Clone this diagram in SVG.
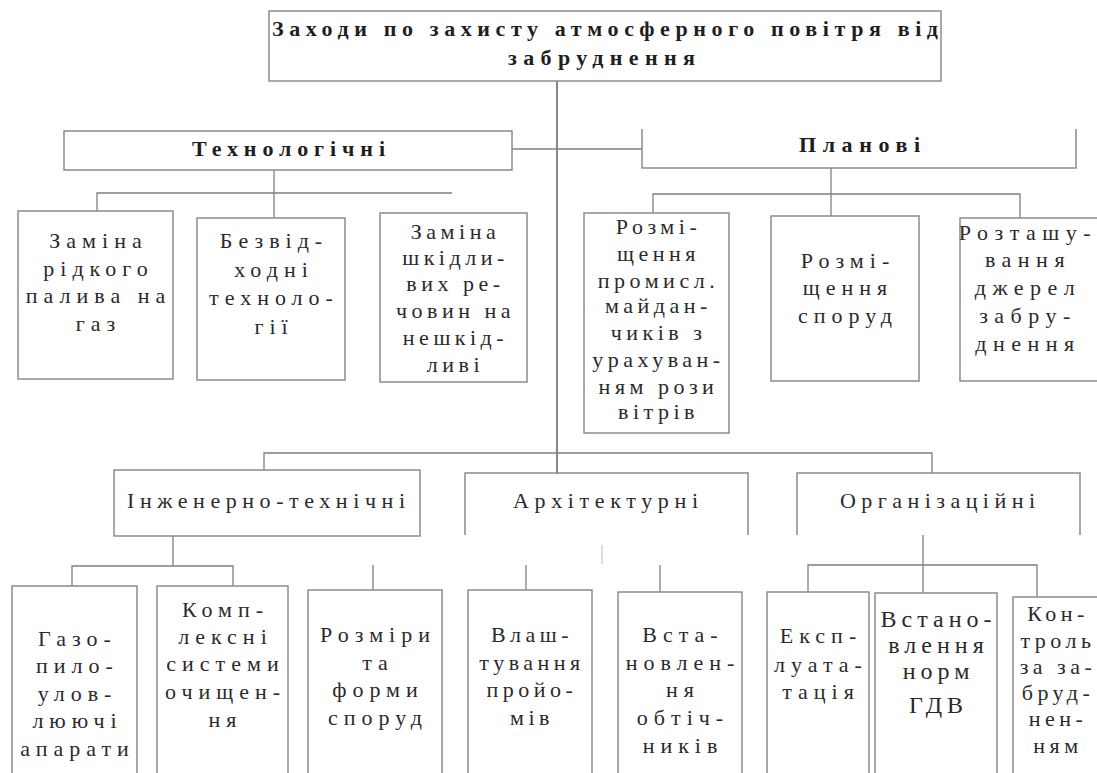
<svg xmlns="http://www.w3.org/2000/svg" width="1097" height="773" viewBox="0 0 1097 773">
<style>
.box{fill:none;stroke:#8c8c8c;stroke-width:1.5}
.ln{fill:none;stroke:#808080;stroke-width:1.3}
.trunk{fill:none;stroke:#474747;stroke-width:1.3}
.tick{fill:none;stroke:#c4c4c4;stroke-width:1.2}
.t{font-family:"Liberation Serif","Times New Roman","DejaVu Serif",serif;font-size:22px;letter-spacing:6px;fill:#2a2a2a;text-anchor:middle}
.h{font-family:"Liberation Serif","Times New Roman","DejaVu Serif",serif;font-size:22px;fill:#2a2a2a;text-anchor:middle}
.b{font-weight:bold;fill:#1e1e1e}
.big{font-size:24px;letter-spacing:5px}
.narrow{letter-spacing:4.5px}
.wide{letter-spacing:6.5px}
</style>
<rect width="1097" height="773" fill="#ffffff"/>

<g id="connectors">
  <line class="trunk" x1="557" y1="81" x2="557" y2="474"/>
  <line class="ln" x1="512" y1="149" x2="642" y2="149"/>
  <line class="ln" x1="274" y1="170" x2="274" y2="218"/>
  <polyline class="ln" points="97,211 97,193 452,193"/>
  <line class="ln" x1="831" y1="168" x2="831" y2="216"/>
  <polyline class="ln" points="653,213 653,194 1020,194 1020,218"/>
  <polyline class="ln" points="264,470 264,453 932,453 932,473"/>
  <line class="ln" x1="173" y1="536" x2="173" y2="566"/>
  <polyline class="ln" points="72,586 72,566 233,566 233,586"/>
  <line class="ln" x1="373" y1="565" x2="373" y2="590"/>
  <line class="ln" x1="526" y1="565" x2="526" y2="590"/>
  <line class="ln" x1="660" y1="565" x2="660" y2="592"/>
  <line class="tick" x1="602" y1="545" x2="602" y2="564"/>
  <line class="ln" x1="923" y1="535" x2="923" y2="593"/>
  <polyline class="ln" points="808,592 808,565 1037,565 1037,597"/>
</g>

<g id="root">
  <rect class="box" x="269" y="11" width="672" height="70"/>
  <text class="h b" x="605" y="36" font-size="21" textLength="666" lengthAdjust="spacing">Заходи по захисту атмосферного повітря від</text>
  <text class="h b" x="601.5" y="65" font-size="21" textLength="187" lengthAdjust="spacing">забруднення</text>
</g>

<g id="tech">
  <rect class="box" x="64" y="131" width="448" height="39"/>
  <text class="h b" x="288.5" y="156" font-size="21" textLength="193" lengthAdjust="spacing">Технологічні</text>
</g>

<g id="plan">
  <polyline class="box" points="642,129 642,168 1076,168 1076,129"/>
  <text class="h b" x="859.5" y="152" font-size="21" textLength="121" lengthAdjust="spacing">Планові</text>
</g>

<g id="t1">
  <rect class="box" x="18" y="211" width="155" height="168"/>
  <text class="t" x="98.5" y="248">Заміна</text>
  <text class="t" x="98.5" y="276">рідкого</text>
  <text class="t" x="98.5" y="303">палива на</text>
  <text class="t" x="98.5" y="331">газ</text>
</g>

<g id="t2">
  <rect class="box" x="197" y="218" width="148" height="162"/>
  <text class="t" x="274" y="248">Безвід-</text>
  <text class="t" x="274" y="277">ходні</text>
  <text class="t" x="274" y="305">техноло-</text>
  <text class="t" x="274" y="334">гії</text>
</g>

<g id="t3">
  <rect class="box" x="380" y="213" width="147" height="169"/>
  <text class="t narrow" x="455.5" y="239">Заміна</text>
  <text class="t narrow" x="455.5" y="265">шкідли-</text>
  <text class="t narrow" x="455.5" y="291">вих ре-</text>
  <text class="t narrow" x="455.5" y="318">човин на</text>
  <text class="t narrow" x="455.5" y="345">нешкід-</text>
  <text class="t narrow" x="455.5" y="372">ливі</text>
</g>

<g id="p1">
  <rect class="box" x="584" y="213" width="145" height="220"/>
  <text class="t narrow" x="658.5" y="234">Розмі-</text>
  <text class="t narrow" x="658.5" y="261">щення</text>
  <text class="t narrow" x="658.5" y="288">промисл.</text>
  <text class="t narrow" x="658.5" y="313">майдан-</text>
  <text class="t narrow" x="658.5" y="340">чиків з</text>
  <text class="t narrow" x="658.5" y="367">урахуван-</text>
  <text class="t narrow" x="658.5" y="394">ням рози</text>
  <text class="t narrow" x="658.5" y="419">вітрів</text>
</g>

<g id="p2">
  <rect class="box" x="771" y="216" width="148" height="165"/>
  <text class="t" x="848" y="268">Розмі-</text>
  <text class="t" x="848" y="295">щення</text>
  <text class="t" x="848" y="323">споруд</text>
</g>

<g id="p3">
  <rect class="box" x="960" y="218" width="140" height="163"/>
  <text class="t wide" x="1028" y="240">Розташу-</text>
  <text class="t wide" x="1028" y="267">вання</text>
  <text class="t wide" x="1028" y="295">джерел</text>
  <text class="t wide" x="1028" y="323">забру-</text>
  <text class="t wide" x="1028" y="351">днення</text>
</g>

<g id="eng">
  <rect class="box" x="114" y="470" width="306" height="66"/>
  <text class="h" x="266" y="508" textLength="278" lengthAdjust="spacing">Інженерно-технічні</text>
</g>

<g id="arch">
  <polyline class="box" points="465,535 465,473 748,473 748,535"/>
  <text class="h" x="605.5" y="508" textLength="185" lengthAdjust="spacing">Архітектурні</text>
</g>

<g id="org">
  <polyline class="box" points="797,535 797,473 1080,473 1080,535"/>
  <text class="h" x="937.5" y="508" textLength="195" lengthAdjust="spacing">Організаційні</text>
</g>

<g id="e1">
  <rect class="box" x="12" y="586" width="125" height="200"/>
  <text class="t" x="77.5" y="646">Газо-</text>
  <text class="t" x="77.5" y="673">пило-</text>
  <text class="t" x="77.5" y="701">улов-</text>
  <text class="t" x="77.5" y="728">люючі</text>
  <text class="t" x="77.5" y="756">апарати</text>
</g>

<g id="e2">
  <rect class="box" x="157" y="586" width="131" height="200"/>
  <text class="t" x="225.5" y="617">Комп-</text>
  <text class="t" x="225.5" y="644">лексні</text>
  <text class="t" x="225.5" y="671">системи</text>
  <text class="t" x="225.5" y="699">очищен-</text>
  <text class="t" x="225.5" y="727">ня</text>
</g>

<g id="a1">
  <rect class="box" x="308" y="590" width="134" height="196"/>
  <text class="t" x="378" y="642">Розміри</text>
  <text class="t" x="378" y="670">та</text>
  <text class="t" x="378" y="697">форми</text>
  <text class="t" x="378" y="725">споруд</text>
</g>

<g id="a2">
  <rect class="box" x="468" y="590" width="124" height="196"/>
  <text class="t narrow" x="532" y="642">Влаш-</text>
  <text class="t narrow" x="532" y="670">тування</text>
  <text class="t narrow" x="532" y="697">пройо-</text>
  <text class="t narrow" x="532" y="725">мів</text>
</g>

<g id="a3">
  <rect class="box" x="618" y="592" width="124" height="194"/>
  <text class="t" x="683" y="642">Вста-</text>
  <text class="t" x="683" y="670">новлен-</text>
  <text class="t" x="683" y="697">ня</text>
  <text class="t" x="683" y="725">обтіч-</text>
  <text class="t" x="683" y="753">ників</text>
</g>

<g id="o1">
  <rect class="box" x="767" y="592" width="102" height="194"/>
  <text class="t" x="821" y="643">Експ-</text>
  <text class="t" x="821" y="672">луата-</text>
  <text class="t" x="821" y="699">тація</text>
</g>

<g id="o2">
  <rect class="box" x="875" y="593" width="122" height="193"/>
  <text class="t big" x="938.5" y="627">Встано-</text>
  <text class="t big" x="938.5" y="653">влення</text>
  <text class="t big" x="938.5" y="679">норм</text>
  <text class="t big" x="938.5" y="713" font-size="27">ГДВ</text>
</g>

<g id="o3">
  <rect class="box" x="1013" y="597" width="100" height="189"/>
  <text class="t narrow" x="1058" y="621">Кон-</text>
  <text class="t narrow" x="1058" y="648">троль</text>
  <text class="t narrow" x="1058" y="674">за за-</text>
  <text class="t narrow" x="1058" y="700">бруд-</text>
  <text class="t narrow" x="1058" y="726">нен-</text>
  <text class="t narrow" x="1058" y="753">ням</text>
</g>
</svg>
